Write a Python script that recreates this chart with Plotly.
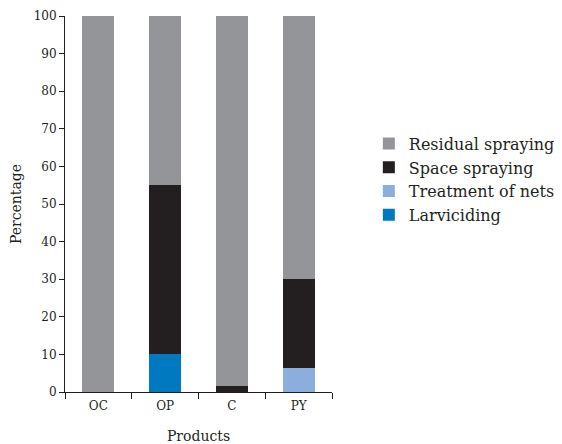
import plotly.graph_objects as go

categories = ["OC", "OP", "C", "PY"]
larviciding = [0, 10, 0, 0]
treatment_of_nets = [0, 0, 0, 6.5]
space_spraying = [0, 45, 1.6, 23.5]
residual_spraying = [100, 45, 98.4, 70]
y_ticks = [0, 10, 20, 30, 40, 50, 60, 70, 80, 90, 100]

series = [
    ("Larviciding", larviciding, "#0079c1"),
    ("Treatment of nets", treatment_of_nets, "#8aafdc"),
    ("Space spraying", space_spraying, "#231f20"),
    ("Residual spraying", residual_spraying, "#939598"),
]

font_family = "DejaVu Serif"
fig = go.Figure()
for name, vals, color in series:
    fig.add_trace(go.Bar(x=categories, y=vals, name=name, marker_color=color,
                         marker_line_width=0, width=0.48))

# page body has an 8px margin, so the figure is sized/positioned to compensate
fig.update_layout(
    barmode="stack",
    width=554, height=436,
    margin=dict(l=57, r=230, t=8, b=52, autoexpand=False),
    plot_bgcolor="white", paper_bgcolor="white",
    font=dict(family=font_family, color="#231f20", size=12),
    legend=dict(traceorder="reversed", x=1.138, y=0.565, xanchor="left", yanchor="middle",
                font=dict(size=16, family=font_family), itemwidth=30,
                tracegroupgap=0),
    xaxis=dict(title=dict(text="Products", font=dict(size=14), standoff=22),
               automargin=False, ticklabelstandoff=3,
               showline=True, linecolor="#231f20", linewidth=1,
               ticks="outside", tickson="boundaries", ticklen=6, tickcolor="#231f20",
               showgrid=False, tickfont=dict(size=12)),
    yaxis=dict(title=dict(text="Percentage", font=dict(size=14), standoff=9),
               automargin=False,
               range=[0, 100], tickvals=y_ticks, showline=True, linecolor="#231f20",
               linewidth=1, ticks="outside", ticklen=5, tickcolor="#231f20",
               showgrid=False, zeroline=False, tickfont=dict(size=12)),
)

fig.write_html("out.html")
